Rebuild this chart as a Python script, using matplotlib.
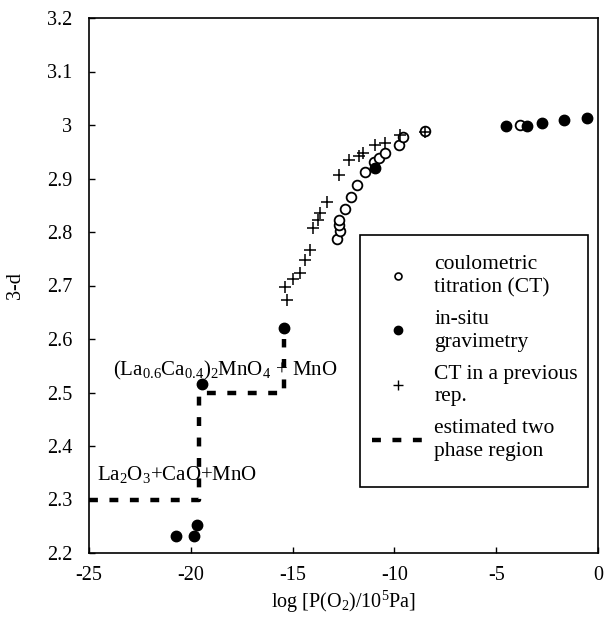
import matplotlib
matplotlib.use("Agg")
import matplotlib.pyplot as plt
from matplotlib.lines import Line2D
from matplotlib.patches import Rectangle

plt.rcParams['font.family'] = ['Liberation Serif', 'DejaVu Serif']
plt.rcParams['mathtext.fontset'] = 'custom'
plt.rcParams['mathtext.rm'] = 'Liberation Serif'
plt.rcParams['mathtext.it'] = 'Liberation Serif:italic'

# coulometric titration (CT)
ct_x = [-12.83, -12.67, -12.70, -12.72, -12.43, -12.15, -11.85, -11.44, -11.00,
        -10.74, -10.46, -9.77, -9.58, -8.50, -3.83]
ct_y = [2.787, 2.802, 2.813, 2.823, 2.843, 2.866, 2.887, 2.913, 2.930,
        2.939, 2.947, 2.963, 2.978, 2.988, 3.000]

# in-situ gravimetry
gr_x = [-20.73, -19.84, -19.70, -19.45, -15.42, -10.95, -4.52, -3.49, -2.75, -1.67, -0.54]
gr_y = [2.232, 2.232, 2.252, 2.515, 2.620, 2.920, 2.998, 2.999, 3.004, 3.009, 3.013]

# CT in a previous rep.
prev_x = [-15.29, -15.37, -14.96, -14.64, -14.39, -14.15, -13.98, -13.74, -13.65,
          -13.33, -12.72, -12.23, -11.72, -11.53, -10.95, -10.46, -9.73, -8.50]
prev_y = [2.673, 2.698, 2.713, 2.724, 2.748, 2.766, 2.807, 2.822, 2.836,
          2.857, 2.907, 2.935, 2.942, 2.947, 2.963, 2.967, 2.981, 2.987]

# estimated two phase region
two_x = [-25.0, -19.6, -19.6, -15.4, -15.4]
two_y = [2.30, 2.30, 2.50, 2.50, 2.60]

fig = plt.figure(figsize=(6.08, 6.20), dpi=100)
ax = fig.add_axes([89/608, 1 - 553/620, (598-89)/608, (553-18)/620])

ax.plot(two_x, two_y, color='black', lw=3.2, dashes=(2.0, 2.6), zorder=2)
ax.plot(ct_x, ct_y, 'o', mfc='white', mec='black', mew=1.3, ms=7, ls='none', zorder=3)
ax.plot(gr_x, gr_y, 'o', color='black', ms=7.5, ls='none', zorder=4)
ax.plot(prev_x, prev_y, '+', color='black', mew=1.1, ms=9, ls='none', zorder=5)

ax.text(-23.8, 2.542, r'(La$_{0.6}$Ca$_{0.4}$)$_2$MnO$_4$ + MnO', fontsize=15,
        va='center', ha='left', zorder=6)
ax.text(-24.6, 2.346, r'La$_2$O$_3$+CaO+MnO', fontsize=15, va='center', ha='left', zorder=6)

ax.set_xlim(-25, 0)
ax.set_ylim(2.2, 3.2)
ax.set_xticks([-25, -20, -15, -10, -5, 0])
ax.set_xticklabels(['-25', '-20', '-15', '-10', '-5', '0'])
ax.set_yticks([2.2, 2.3, 2.4, 2.5, 2.6, 2.7, 2.8, 2.9, 3.0, 3.1, 3.2])
ax.set_yticklabels(['2.2', '2.3', '2.4', '2.5', '2.6', '2.7', '2.8', '2.9', '3', '3.1', '3.2'])
ax.tick_params(direction='in', length=4, width=1, labelsize=14.5)
ax.tick_params(axis='y', pad=12)
ax.tick_params(axis='x', pad=9)
for s in ax.spines.values():
    s.set_linewidth(1.2)

ax.set_xlabel(r'log [P(O$_2$)/10$^5$Pa]', fontsize=14.5, labelpad=3)
ax.set_ylabel('3-d', fontsize=14.5, labelpad=16)

# legend frame
ax.add_patch(Rectangle((0.532, 0.123), 0.448, 0.471, transform=ax.transAxes,
                       facecolor='white', edgecolor='black', lw=1.2, zorder=7))

handles = [
    Line2D([], [], marker='o', mfc='white', mec='black', mew=1.2, ms=5, ls='none'),
    Line2D([], [], marker='o', color='black', ms=6, ls='none'),
    Line2D([], [], marker='+', color='black', mew=1.0, ms=7, ls='none'),
    Line2D([], [], color='black', lw=3.2, dashes=(2.0, 2.6)),
]
labels = ['coulometric\ntitration (CT)', 'in-situ\ngravimetry',
          'CT in a previous\nrep.', 'estimated two\nphase region']
leg = ax.legend(handles, labels, loc='upper left', bbox_to_anchor=(0.556, 0.557),
                fontsize=15.5, frameon=False, handlelength=2.4, handletextpad=0.5,
                labelspacing=0.6, borderpad=0, borderaxespad=0)
leg.set_zorder(8)
for t in leg.get_texts():
    t.set_linespacing(1.27)

fig.savefig('out.png', dpi=100)
